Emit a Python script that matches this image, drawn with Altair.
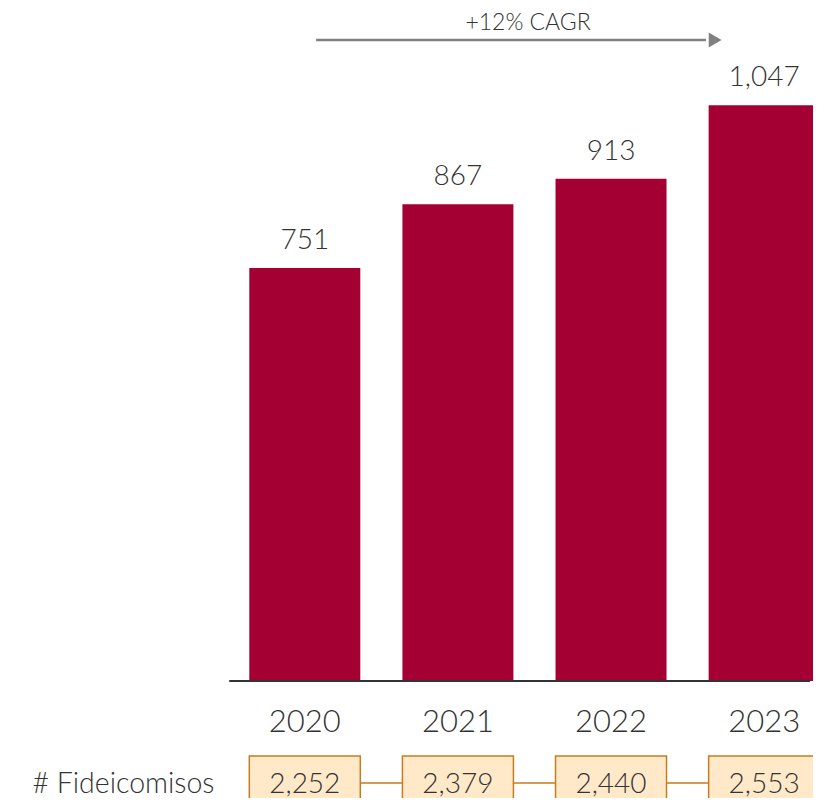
import altair as alt
import pandas as pd

# ---- data ----
years = [2020, 2021, 2022, 2023]
values = [751, 867, 913, 1047]          # bar values
fideicomisos = [2252, 2379, 2440, 2553]  # number of trusts (boxes)
row_label = "# Fideicomisos"
cagr_label = "+12% CAGR"

df = pd.DataFrame({
    "year": years,
    "value": values,
    "fid": fideicomisos,
    "year_label": [str(y) for y in years],
})
one = pd.DataFrame({"k": [0]})

# ---- scales (plot area = full 821 x 806 window, 155 px per year, 0.55 px per unit) ----
X0, X1 = 2018.04194, 2023.33871
Y0, Y1 = -227.27, 1238.18
xs = alt.Scale(domain=[X0, X1], nice=False, zero=False)
ys = alt.Scale(domain=[Y0, Y1], nice=False, zero=False)

BAR = "#A50034"
BOX_FILL = "#FFE9C8"
BOX_LINE = "#C97B1E"
ARROW = "#808080"
TXT = "#333333"
FONT = "Lato"


def XQ(f):
    return alt.X(f"{f}:Q", scale=xs, axis=None)


def YQ(f):
    return alt.Y(f"{f}:Q", scale=ys, axis=None)


base = alt.Chart(df).transform_calculate(
    zero="0", year_lbl_y="-92.7", box_top="-136.4", box_bot="-320",
    box_txt_y="-203.6"
)
anno = alt.Chart(one).transform_calculate(
    bl_x1="2019.5065", bl_x2="2023.3", bl_y="0",
    con_x1="2020", con_x2="2023", con_y="-185.5",
    row_x="2019.41", row_y="-203.6",
    ar_x1="2020.074", ar_x2="2022.62", ar_y="1165.5", ar_hx="2022.68",
    cg_x="2021.458", cg_y="1183.6",
)

bars = base.mark_bar(size=111, color=BAR).encode(
    x=XQ("year"), y=YQ("value"), y2="zero:Q",
)

value_labels = base.mark_text(
    dy=-19, baseline="alphabetic", fontSize=28, font=FONT, fontWeight=300, color=TXT
).encode(
    x=XQ("year"), y=YQ("value"),
    text=alt.Text("value:Q", format=","),
)

year_labels = base.mark_text(
    baseline="alphabetic", fontSize=31, font=FONT, fontWeight=300, color=TXT
).encode(
    x=XQ("year"), y=YQ("year_lbl_y"), text="year_label:N",
)

baseline = anno.mark_rule(color="#333333", strokeWidth=2).encode(
    x=XQ("bl_x1"), x2="bl_x2:Q", y=YQ("bl_y"),
)

connector = anno.mark_rule(color=BOX_LINE, strokeWidth=1.5).encode(
    x=XQ("con_x1"), x2="con_x2:Q", y=YQ("con_y"),
)

boxes = base.mark_bar(
    size=111, fill=BOX_FILL, stroke=BOX_LINE, strokeWidth=1.5, clip=True
).encode(
    x=XQ("year"), y=YQ("box_top"), y2="box_bot:Q",
)

box_text = base.mark_text(
    baseline="alphabetic", fontSize=28, font=FONT, fontWeight=300, color=TXT
).encode(
    x=XQ("year"), y=YQ("box_txt_y"),
    text=alt.Text("fid:Q", format=","),
)

row_text = anno.mark_text(
    text=row_label, align="right", baseline="alphabetic", fontSize=28.5,
    font=FONT, fontWeight=300, color=TXT
).encode(
    x=XQ("row_x"), y=YQ("row_y"),
)

arrow_line = anno.mark_rule(color=ARROW, strokeWidth=2.5).encode(
    x=XQ("ar_x1"), x2="ar_x2:Q", y=YQ("ar_y"),
)

arrow_head = anno.mark_point(
    shape="triangle-right", filled=True, size=220, color=ARROW, opacity=1
).encode(
    x=XQ("ar_hx"), y=YQ("ar_y"),
)

cagr_text = anno.mark_text(
    text=cagr_label, baseline="alphabetic", fontSize=23, font=FONT,
    fontWeight=300, color=TXT
).encode(
    x=XQ("cg_x"), y=YQ("cg_y"),
)

chart = alt.layer(
    bars, value_labels, year_labels, baseline, connector, boxes, box_text,
    row_text, arrow_line, arrow_head, cagr_text
).properties(
    width=821, height=806,
    padding={"left": -8, "top": -8, "right": -8, "bottom": -8},
    autosize="none",
).configure_view(stroke=None)

chart.save("out.html", embed_options={"renderer": "svg", "actions": False})
